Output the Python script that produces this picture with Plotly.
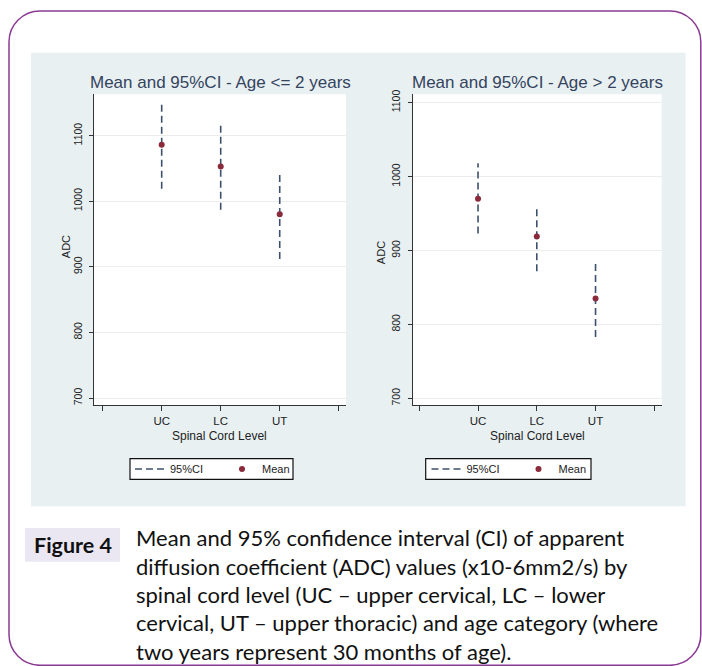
import plotly.graph_objects as go

# ---------------- data ----------------
levels = ["UC", "LC", "UT"]
level_pos = [1, 2, 3]
axis_ticks = [0, 1, 2, 3, 4]
axis_ticktext = [""] + levels + [""]
y_ticks = [700, 800, 900, 1000, 1100]

young_mean = [1086, 1053, 980]
young_lo = [1019, 987, 912]
young_hi = [1150, 1116, 1045]

old_mean = [970, 919, 835]
old_lo = [923, 872, 783]
old_hi = [1018, 959, 887]

titles = ["Mean and 95%CI - Age <= 2 years", "Mean and 95%CI - Age > 2 years"]
caption_label = "Figure 4"
caption_lines = [
    "Mean and 95% confidence interval (CI) of apparent",
    "diffusion coefficient (ADC) values (x10-6mm2/s) by",
    "spinal cord level (UC \u2013 upper cervical, LC \u2013 lower",
    "cervical, UT \u2013 upper thoracic) and age category (where",
    "two years represent 30 months of age).",
]

# ---------------- geometry helpers ----------------
W, H = 702, 666


def px(x):
    return x / W


def py(y):
    return 1 - y / H


CI_COLOR = "#3d506b"
MEAN_COLOR = "#8a2a3b"
TITLE_COLOR = "#34435e"
PANEL = "#e8f0f2"
STATA_FONT = "Liberation Sans"

fig = go.Figure()


def ci_xy(lo, hi):
    xs, ys = [], []
    for p, a, b in zip(level_pos, lo, hi):
        xs += [p, p, None]
        ys += [a, b, None]
    return xs, ys


panels = [
    dict(mean=young_mean, lo=young_lo, hi=young_hi, xa="x", ya="y", leg="legend"),
    dict(mean=old_mean, lo=old_lo, hi=old_hi, xa="x2", ya="y2", leg="legend2"),
]

for pnl in panels:
    xs, ys = ci_xy(pnl["lo"], pnl["hi"])
    fig.add_trace(go.Scatter(
        x=xs, y=ys, mode="lines", name="95%CI",
        line=dict(color=CI_COLOR, width=1.6, dash="7px,4px"),
        xaxis=pnl["xa"], yaxis=pnl["ya"], legend=pnl["leg"],
        hoverinfo="skip",
    ))
    fig.add_trace(go.Scatter(
        x=level_pos, y=pnl["mean"], mode="markers", name="Mean",
        marker=dict(color=MEAN_COLOR, size=6, symbol="circle"),
        xaxis=pnl["xa"], yaxis=pnl["ya"], legend=pnl["leg"],
    ))

axis_common = dict(
    showline=True, linecolor="#333333", linewidth=1.3,
    ticks="outside", tickcolor="#333333", tickwidth=1.2,
    zeroline=False, mirror=False,
)

legend_common = dict(
    orientation="h", xanchor="left", y=py(467.5), yanchor="middle",
    bgcolor="rgba(0,0,0,0)", borderwidth=0,
    font=dict(size=11, family=STATA_FONT, color="#222222"),
    itemwidth=30, entrywidth=47, entrywidthmode="pixels", tracegroupgap=0,
)

ydom = [py(403), py(90)]
fig.update_layout(
    width=W, height=H,
    margin=dict(l=0, r=0, t=0, b=0),
    paper_bgcolor="white", plot_bgcolor="white",
    font=dict(family=STATA_FONT, color="#222222", size=10),
    xaxis=dict(domain=[px(94), px(346)], range=[-0.147, 4.123],
               tickvals=axis_ticks, ticktext=axis_ticktext, ticklen=5,
               showgrid=False, tickfont=dict(size=11.5, color="#222222"),
               **axis_common),
    yaxis=dict(domain=ydom, range=[689.4, 1163], tickvals=y_ticks,
               tickangle=-90, ticklen=4, ticklabelstandoff=3,
               showgrid=True, gridcolor="#ececec",
               gridwidth=1, tickfont=dict(size=10.5, color="#222222"),
               **axis_common),
    xaxis2=dict(domain=[px(412.7), px(661.7)], range=[-0.112, 4.126],
                tickvals=axis_ticks, ticktext=axis_ticktext, ticklen=5,
                showgrid=False, tickfont=dict(size=11.5, color="#222222"),
                anchor="y2", **axis_common),
    yaxis2=dict(domain=ydom, range=[691, 1111.2], tickvals=y_ticks,
                tickangle=-90, ticklen=4, ticklabelstandoff=3,
                showgrid=True, gridcolor="#ececec",
                gridwidth=1, tickfont=dict(size=10.5, color="#222222"),
                anchor="x2", **axis_common),
    legend=dict(x=px(130), **legend_common),
    legend2=dict(x=px(426.5), **legend_common),
    showlegend=True,
)


def rounded_path(x0, y0, x1, y1, r):
    k = 0.5523 * r
    pts = [
        f"M {px(x0 + r)},{py(y0)}",
        f"L {px(x1 - r)},{py(y0)}",
        f"C {px(x1 - r + k)},{py(y0)} {px(x1)},{py(y0 + r - k)} {px(x1)},{py(y0 + r)}",
        f"L {px(x1)},{py(y1 - r)}",
        f"C {px(x1)},{py(y1 - r + k)} {px(x1 - r + k)},{py(y1)} {px(x1 - r)},{py(y1)}",
        f"L {px(x0 + r)},{py(y1)}",
        f"C {px(x0 + r - k)},{py(y1)} {px(x0)},{py(y1 - r + k)} {px(x0)},{py(y1 - r)}",
        f"L {px(x0)},{py(y0 + r)}",
        f"C {px(x0)},{py(y0 + r - k)} {px(x0 + r - k)},{py(y0)} {px(x0 + r)},{py(y0)}",
        "Z",
    ]
    return " ".join(pts)


shapes = [
    # light grey-blue graph panel
    dict(type="rect", xref="paper", yref="paper", x0=px(31), x1=px(685.5),
         y0=py(505), y1=py(48), fillcolor=PANEL, line=dict(width=0), layer="below"),
    # legend boxes
    dict(type="rect", xref="paper", yref="paper", x0=px(130), x1=px(293),
         y0=py(478), y1=py(457), fillcolor="white",
         line=dict(color="#111111", width=1.2), layer="below"),
    dict(type="rect", xref="paper", yref="paper", x0=px(425.7), x1=px(591),
         y0=py(478), y1=py(457), fillcolor="white",
         line=dict(color="#111111", width=1.2), layer="below"),
    # white plot regions
    dict(type="rect", xref="x domain", yref="y domain", x0=0, x1=1, y0=0, y1=1,
         fillcolor="white", line=dict(width=0), layer="below"),
    dict(type="rect", xref="x2 domain", yref="y2 domain", x0=0, x1=1, y0=0, y1=1,
         fillcolor="white", line=dict(width=0), layer="below"),
    # "Figure 4" label box
    dict(type="rect", xref="paper", yref="paper", x0=px(25), x1=px(120),
         y0=py(561), y1=py(527), fillcolor="#eae7f3", line=dict(width=0), layer="below"),
    # purple rounded frame
    dict(type="path", xref="paper", yref="paper",
         path=rounded_path(9, 6, 700.8, 665.3, 31),
         line=dict(color="#8a3a93", width=1.5), fillcolor="rgba(0,0,0,0)", layer="above"),
]
fig.update_layout(shapes=shapes)

ann = []
# subplot titles
for cx, t in zip([220.5, 537], titles):
    ann.append(dict(text=t, x=px(cx), y=py(78), xref="paper", yref="paper",
                    xanchor="center", yanchor="middle", showarrow=False,
                    font=dict(family=STATA_FONT, size=17, color=TITLE_COLOR)))
# y axis titles
for cx, cy in [(66, 244), (381, 249)]:
    ann.append(dict(text="ADC", x=px(cx), y=py(cy), xref="paper", yref="paper",
                    xanchor="center", yanchor="middle", showarrow=False, textangle=-90,
                    font=dict(family=STATA_FONT, size=11, color="#222222")))
# x axis titles
for cx in [220, 537]:
    ann.append(dict(text="Spinal Cord Level", x=px(cx), y=py(434), xref="paper", yref="paper",
                    xanchor="center", yanchor="middle", showarrow=False,
                    font=dict(family=STATA_FONT, size=12, color="#222222")))
# caption
ann.append(dict(text="<b>" + caption_label + "</b>", x=px(72.5), y=py(544), xref="paper",
                yref="paper", xanchor="center", yanchor="middle", showarrow=False,
                font=dict(family="Lato", size=21.5, color="#111111")))
for i, line in enumerate(caption_lines):
    ann.append(dict(text=line, x=px(134), y=py(537 + i * 28.5), xref="paper", yref="paper",
                    xanchor="left", yanchor="middle", showarrow=False,
                    font=dict(family="Lato", size=22, color="#111111")))
fig.update_layout(annotations=ann)

fig.write_html("out.html")
